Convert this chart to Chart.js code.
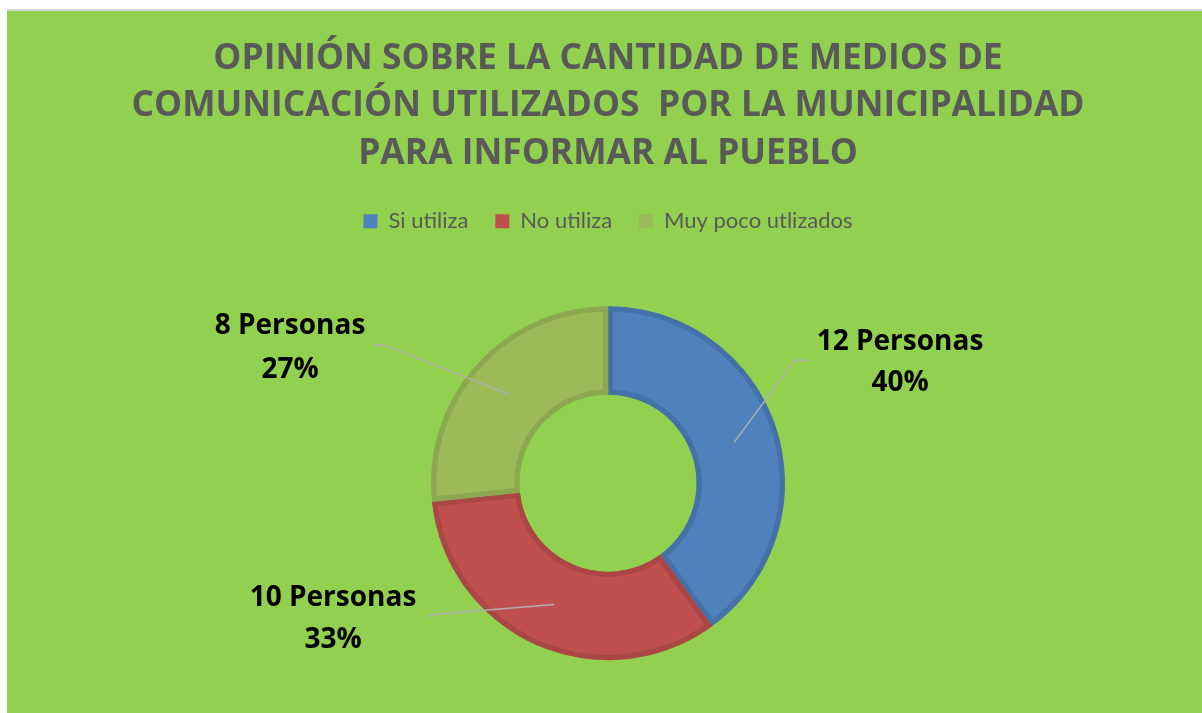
<!DOCTYPE html>
<html>
<head>
<meta charset="utf-8">
<script src="https://cdn.jsdelivr.net/npm/chart.js@4.4.1/dist/chart.umd.min.js"></script>
<style>
  html, body { margin: 0; padding: 0; background: #fff; }
  #wrap {
    position: absolute; left: 7px; top: 9px; width: 1195px; height: 702px;
    border-top: 2px solid #d6d6d6; background: #92d050;
  }
</style>
</head>
<body>
<div id="wrap"><canvas id="chart"></canvas></div>
<script>
const categories = ["Si utiliza", "No utiliza", "Muy poco utlizados"];
const personas = [12, 10, 8];
const percentLabels = ["40%", "33%", "27%"];
const titleLines = [
  "OPINIÓN SOBRE LA CANTIDAD DE MEDIOS DE",
  "COMUNICACIÓN UTILIZADOS  POR LA MUNICIPALIDAD",
  "PARA INFORMAR AL PUEBLO"
];

const fills = ["#4f81bd", "#c0504d", "#9bbb59"];
const borders = ["#4472a8", "#aa4744", "#8ba84f"];

// where each callout sits, relative to the doughnut centre
const callouts = [
  { text: [292, -133, -92], elbow: [187, -123], end: [200, -123] },
  { text: [-275, 123, 165], elbow: [-172, 131], end: [-180, 133] },
  { text: [-318, -149, -105], elbow: [-223, -138], end: [-235, -138] }
];

// extra room under the legend so the ring sits lower
const legendSpacer = {
  id: "legendSpacer",
  beforeInit(chart) {
    const fit = chart.legend.fit;
    chart.legend.fit = function () {
      fit.call(this);
      this.height += 21;
    };
  }
};

const calloutLabels = {
  id: "calloutLabels",
  afterDatasetsDraw(chart) {
    const ctx = chart.ctx;
    const arcs = chart.getDatasetMeta(0).data;
    ctx.save();
    arcs.forEach((arc, i) => {
      const c = callouts[i];
      const mid = arc.getCenterPoint();
      const cx = arc.x, cy = arc.y;
      ctx.strokeStyle = "#b0b0b0";
      ctx.lineWidth = 1.5;
      ctx.beginPath();
      ctx.moveTo(mid.x, mid.y);
      ctx.lineTo(cx + c.elbow[0], cy + c.elbow[1]);
      ctx.lineTo(cx + c.end[0], cy + c.end[1]);
      ctx.stroke();

      ctx.fillStyle = "#000";
      ctx.font = "bold 28px 'Open Sans'";
      ctx.textAlign = "center";
      ctx.textBaseline = "alphabetic";
      ctx.fillText(personas[i] + " Personas", cx + c.text[0], cy + c.text[1]);
      ctx.fillText(percentLabels[i], cx + c.text[0], cy + c.text[2]);
    });
    ctx.restore();
  }
};

new Chart(document.getElementById("chart"), {
  type: "doughnut",
  data: {
    labels: categories,
    datasets: [{
      data: personas,
      backgroundColor: fills,
      borderColor: borders,
      borderWidth: 5,
      borderAlign: "inner",
      radius: 177,
      clip: false
    }]
  },
  options: {
    responsive: true,
    maintainAspectRatio: false,
    animation: false,
    cutout: "50%",
    layout: { padding: { left: 7, bottom: 10 } },
    plugins: {
      title: {
        display: true,
        text: titleLines,
        color: "#595959",
        font: { family: "'Open Sans'", size: 35.4, weight: "bold", lineHeight: 1.34 },
        padding: { top: 24, bottom: 6 }
      },
      legend: {
        position: "top",
        labels: {
          color: "#595959",
          font: { family: "Lato", size: 22 },
          boxWidth: 14,
          boxHeight: 14,
          padding: 27,
          generateLabels(chart) {
            const items = Chart.overrides.doughnut.plugins.legend.labels.generateLabels(chart);
            items.forEach(it => { it.lineWidth = 0; });
            return items;
          }
        }
      },
      tooltip: { enabled: false }
    }
  },
  plugins: [legendSpacer, calloutLabels]
});
</script>
</body>
</html>
